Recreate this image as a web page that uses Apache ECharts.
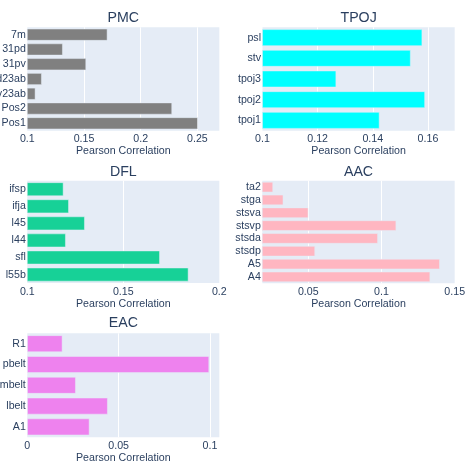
<!DOCTYPE html>
<html>
<head>
<meta charset="utf-8">
<script src="https://cdn.jsdelivr.net/npm/echarts@6/dist/echarts.min.js"></script>
<style>
html,body{margin:0;padding:0;background:#fff;}
#c{width:465px;height:464px;}
</style>
</head>
<body>
<div id="c"></div>
<script>
// Categories listed bottom-to-top (as drawn)
var pmcCats = ['Pos1', 'Pos2', 'v23ab', 'd23ab', '31pv', '31pd', '7m'];
var pmcVals = [0.2503, 0.2276, 0.1071, 0.1127, 0.1518, 0.1312, 0.1706];
var tpojCats = ['tpoj1', 'tpoj2', 'tpoj3', 'stv', 'psl'];
var tpojVals = [0.1424, 0.1589, 0.1267, 0.1537, 0.1579];
var dflCats = ['l55b', 'sfl', 'l44', 'l45', 'ifja', 'ifsp'];
var dflVals = [0.1839, 0.1690, 0.1200, 0.1299, 0.1216, 0.1188];
var aacCats = ['A4', 'A5', 'stsdp', 'stsda', 'stsvp', 'stsva', 'stga', 'ta2'];
var aacVals = [0.1332, 0.1398, 0.0546, 0.0975, 0.1100, 0.0500, 0.0329, 0.0259];
var eacCats = ['A1', 'lbelt', 'mbelt', 'pbelt', 'R1'];
var eacVals = [0.0340, 0.0440, 0.0265, 0.0995, 0.0192];
var titles = ['PMC', 'TPOJ', 'DFL', 'AAC', 'EAC'];
var xName = 'Pearson Correlation';

var FONT = '"Liberation Sans", Arial, sans-serif';
var TXT = '#2a3f5f';
var panels = [
  {cats: pmcCats, vals: pmcVals, color: '#808080', grid: {left: 27.3, top: 27.3, width: 192, height: 103.4}, min: 0.1, max: 0.2693, interval: 0.05},
  {cats: tpojCats, vals: tpojVals, color: '#00FFFF', grid: {left: 262.5, top: 27.3, width: 192.2, height: 103.4}, min: 0.1, max: 0.1697, interval: 0.02},
  {cats: dflCats, vals: dflVals, color: '#17D197', grid: {left: 27.3, top: 180.7, width: 192, height: 102.4}, min: 0.1, max: 0.2, interval: 0.05},
  {cats: aacCats, vals: aacVals, color: '#FFB6C1', grid: {left: 262.3, top: 180.7, width: 192.4, height: 102.6}, min: 0.0186, max: 0.15, interval: null},
  {cats: eacCats, vals: eacVals, color: '#EE82EE', grid: {left: 27.3, top: 333.3, width: 192, height: 104}, min: 0, max: 0.1051, interval: 0.05}
];
var titleTops = [11, 11, 164.7, 165, 315.8];

var option = {animation: false, title: [], grid: [], xAxis: [], yAxis: [], series: []};
panels.forEach(function (p, i) {
  option.grid.push({
    left: p.grid.left, top: p.grid.top, width: p.grid.width, height: p.grid.height,
    show: true, backgroundColor: '#E5ECF6', borderWidth: 0, containLabel: false, outerBoundsMode: 'none'
  });
  option.title.push({
    text: titles[i], left: p.grid.left + p.grid.width / 2, top: titleTops[i], textAlign: 'center', padding: 0,
    textStyle: {fontFamily: FONT, fontSize: 14.2, fontWeight: 'normal', color: TXT}
  });
  var xa = {
    type: 'value', gridIndex: i, min: p.min, max: p.max,
    name: xName, nameLocation: 'middle', nameGap: 15,
    nameTextStyle: {fontFamily: FONT, fontSize: 10.65, color: TXT},
    axisLine: {show: false}, axisTick: {show: false},
    axisLabel: {fontFamily: FONT, fontSize: 10.65, color: TXT, margin: 3, showMaxLabel: p.max === 0.2, showMinLabel: p.interval !== null},
    splitLine: {show: true, showMinLine: false, showMaxLine: false, lineStyle: {color: '#ffffff', width: 1}}
  };
  if (p.interval !== null) { xa.interval = p.interval; } else { xa.splitNumber = 3; xa.axisLabel.showMaxLabel = true; }
  option.xAxis.push(xa);
  option.yAxis.push({
    type: 'category', gridIndex: i, data: p.cats,
    axisLine: {show: false}, axisTick: {show: false}, splitLine: {show: false},
    axisLabel: {fontFamily: FONT, fontSize: 10.65, color: TXT, margin: 1.5, interval: 0, hideOverlap: false}
  });
  option.series.push({
    type: 'bar', xAxisIndex: i, yAxisIndex: i, data: p.vals, barCategoryGap: '20%',
    itemStyle: {color: p.color, borderColor: '#E5ECF6', borderWidth: 0.5}
  });
});

var chart = echarts.init(document.getElementById('c'), null, {renderer: 'canvas'});
chart.setOption(option);
</script>
</body>
</html>
